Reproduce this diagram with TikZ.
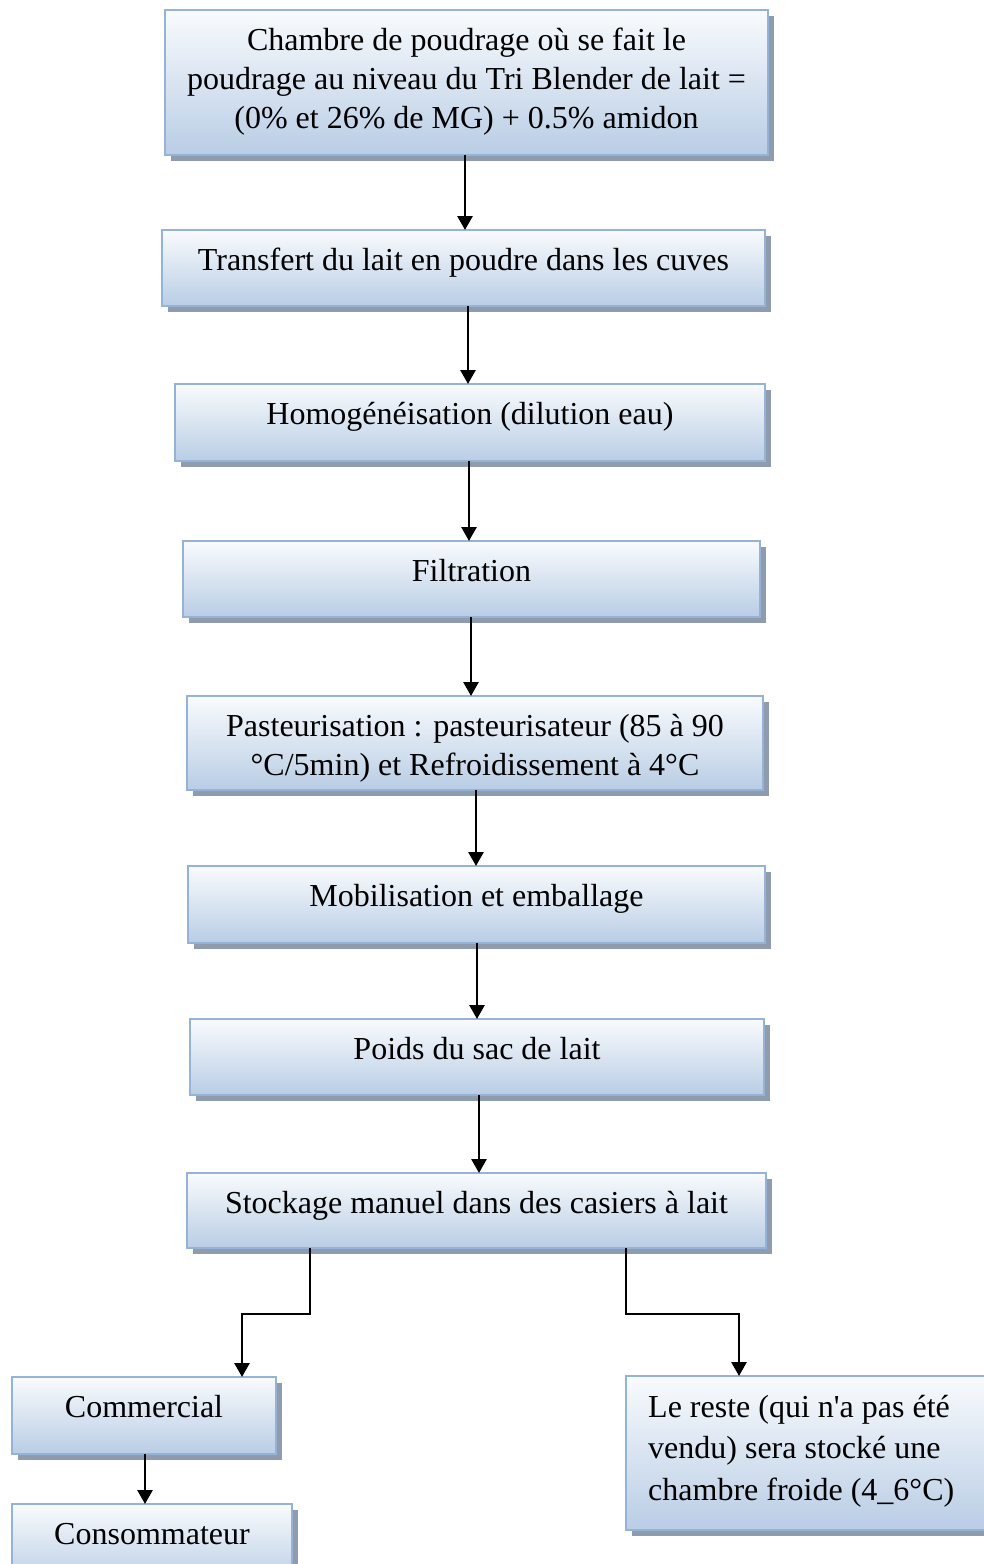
\documentclass[tikz,border=0pt]{standalone}
\usepackage{fontspec}
\setmainfont{Liberation Serif}
\usetikzlibrary{shadows,arrows.meta}
\definecolor{boxtop}{HTML}{F9FBFD}
\definecolor{boxbot}{HTML}{B9CDE5}
\definecolor{boxline}{HTML}{95B3D7}
\definecolor{boxshade}{HTML}{8E9CAE}
\tikzset{
  stepbox/.style={rectangle, anchor=north west, inner sep=0pt, outer sep=0pt,
    draw=boxline, line width=2.5pt, top color=boxtop, bottom color=boxbot,
    drop shadow={shadow xshift=6pt, shadow yshift=-6pt, fill=boxshade, opacity=1}},
  steptext/.style={anchor=north, inner sep=0pt, align=center,
    font=\fontsize{32}{39}\selectfont},
  lefttext/.style={anchor=north west, inner sep=0pt, align=left,
    font=\fontsize{32}{41.5}\selectfont},
  arr/.style={line width=2.8pt, -{Triangle[length=14pt,width=15pt]}}
}
\newcommand{\tstrut}{\rule{0pt}{26pt}}
\begin{document}
\begin{tikzpicture}[x=1pt,y=-1pt]
\useasboundingbox (0,0) rectangle (984,1564);
\clip (0,0) rectangle (984,1564);

% process boxes
\node[stepbox, minimum width=603pt, minimum height=145pt] (b1) at (165,10) {};
\node[stepbox, minimum width=603pt, minimum height=76pt] (b2) at (162,230) {};
\node[stepbox, minimum width=590pt, minimum height=77pt] (b3) at (175,384) {};
\node[stepbox, minimum width=577pt, minimum height=76pt] (b4) at (183,541) {};
\node[stepbox, minimum width=576pt, minimum height=94pt] (b5) at (187,696) {};
\node[stepbox, minimum width=577pt, minimum height=77pt] (b6) at (188,866) {};
\node[stepbox, minimum width=574pt, minimum height=76pt] (b7) at (190,1019) {};
\node[stepbox, minimum width=579pt, minimum height=75pt] (b8) at (187,1173) {};
\node[stepbox, minimum width=264pt, minimum height=77pt] (cm) at (12,1377) {};
\node[stepbox, minimum width=280pt, minimum height=80pt] (cs) at (12,1504) {};
\node[stepbox, minimum width=364pt, minimum height=154pt] (rs) at (626,1376) {};

% box texts
\node[steptext] (t1) at ([yshift=-14pt]b1.north) {\tstrut Chambre de poudrage où se fait le\\
  poudrage au niveau du Tri Blender de lait =\\ (0\% et 26\% de MG) + 0.5\% amidon};
\node[steptext] (t2) at ([yshift=-14pt]b2.north) {\tstrut Transfert du lait en poudre dans les cuves};
\node[steptext] (t3) at ([yshift=-14pt]b3.north) {\tstrut Homogénéisation (dilution eau)};
\node[steptext] (t4) at ([yshift=-14pt]b4.north) {\tstrut Filtration};
\node[steptext] (t5) at ([yshift=-14pt]b5.north) {\tstrut Pasteurisation : pasteurisateur (85 à 90\\
  °C/5min) et Refroidissement à 4°C};
\node[steptext] (t6) at ([yshift=-14pt]b6.north) {\tstrut Mobilisation et emballage};
\node[steptext] (t7) at ([yshift=-14pt]b7.north) {\tstrut Poids du sac de lait};
\node[steptext] (t8) at ([yshift=-14pt]b8.north) {\tstrut Stockage manuel dans des casiers à lait};
\node[steptext] (tcm) at ([yshift=-14pt]cm.north) {\tstrut Commercial};
\node[steptext] (tcs) at ([yshift=-14pt]cs.north) {\tstrut Consommateur};
\node[lefttext] (trs) at ([xshift=22pt,yshift=-15pt]rs.north west) {\tstrut Le reste (qui n\textquotesingle a pas été\\
  vendu) sera stocké une\\ chambre froide (4\_6°C)};

% arrow columns
\coordinate (a12) at (465,0);
\coordinate (a23) at (468,0);
\coordinate (a34) at (469,0);
\coordinate (a45) at (471,0);
\coordinate (a56) at (476,0);
\coordinate (a67) at (477,0);
\coordinate (a78) at (479,0);
\coordinate (acs) at (145,0);
\coordinate (jL1) at (310,1314);
\coordinate (jL2) at (242,1314);
\coordinate (jR1) at (626,1314);
\coordinate (jR2) at (739,1314);

% connectors
\draw[arr] (b1.south -| a12) -- (b2.north -| a12);
\draw[arr] (b2.south -| a23) -- (b3.north -| a23);
\draw[arr] (b3.south -| a34) -- (b4.north -| a34);
\draw[arr] (b4.south -| a45) -- (b5.north -| a45);
\draw[arr] (b5.south -| a56) -- (b6.north -| a56);
\draw[arr] (b6.south -| a67) -- (b7.north -| a67);
\draw[arr] (b7.south -| a78) -- (b8.north -| a78);
\draw[arr] (b8.south -| jL1) -- (jL1) -- (jL2) -- (cm.north -| jL2);
\draw[arr] (b8.south -| jR1) -- (jR1) -- (jR2) -- (rs.north -| jR2);
\draw[arr] (cm.south -| acs) -- (cs.north -| acs);
\end{tikzpicture}
\end{document}
